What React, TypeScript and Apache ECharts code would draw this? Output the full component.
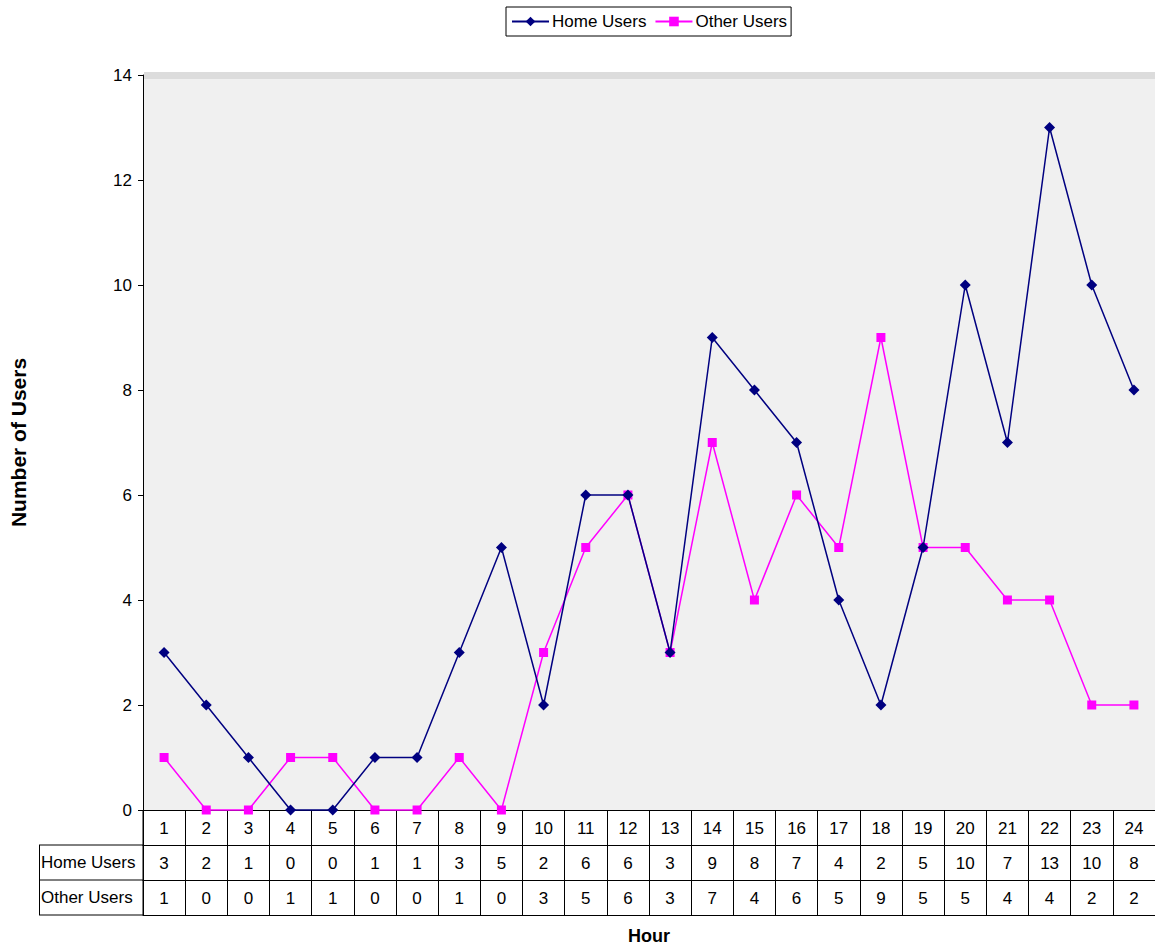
import React, { useEffect, useRef } from "react";
import * as echarts from "echarts";

const hours = ["1","2","3","4","5","6","7","8","9","10","11","12","13","14","15","16","17","18","19","20","21","22","23","24"];
const homeUsers = [3, 2, 1, 0, 0, 1, 1, 3, 5, 2, 6, 6, 3, 9, 8, 7, 4, 2, 5, 10, 7, 13, 10, 8];
const otherUsers = [1, 0, 0, 1, 1, 0, 0, 1, 0, 3, 5, 6, 3, 7, 4, 6, 5, 9, 5, 5, 4, 4, 2, 2];
const yTicks = { min: 0, max: 14, interval: 2 };
const seriesNames = ["Home Users", "Other Users"];

const FONT = "'Liberation Sans', Arial, sans-serif";
const NAVY = "#000080";
const MAGENTA = "#ff00ff";

export default function App() {
  const ref = useRef<HTMLDivElement>(null);
  useEffect(() => {
    if (!ref.current) return;
    const chart = echarts.init(ref.current, null, { renderer: "svg" });
    const gridLeft = 143;
    const gridTop = 75;
    const gridBottomY = 810;
    const rowH = 35;
    const labelStyle = { interval: 0, margin: 10, fontSize: 17, color: "#000", fontFamily: FONT };
    const tableAxis = (data: string[], offset: number) => ({
      type: "category",
      data,
      position: "bottom",
      offset,
      boundaryGap: true,
      axisLine: { show: true, lineStyle: { color: "#000", width: 1 } },
      axisTick: { show: true, interval: 0, length: rowH, inside: false, lineStyle: { color: "#000", width: 1 } },
      axisLabel: labelStyle,
      splitLine: { show: false },
    });
    const option: any = {
      animation: false,
      backgroundColor: "#fff",
      textStyle: { fontFamily: FONT },
      legend: {
        data: seriesNames,
        left: 506,
        top: 7,
        padding: [6, 4, 6, 5],
        borderColor: "#000",
        borderWidth: 1,
        itemWidth: 37,
        itemHeight: 12,
        itemGap: 8,
        textStyle: { fontSize: 17, color: "#000", fontFamily: FONT, padding: [0, 0, 0, -2] },
      },
      grid: {
        left: gridLeft,
        right: 0,
        top: gridTop,
        bottom: 947 - gridBottomY,
        show: true,
        backgroundColor: "#f0f0f0",
        borderWidth: 0,
        containLabel: false,
        outerBoundsMode: "none",
      },
      xAxis: [
        tableAxis(hours, 0),
        tableAxis(homeUsers.map(String), rowH),
        tableAxis(otherUsers.map(String), rowH * 2),
        {
          type: "category",
          data: hours,
          position: "bottom",
          offset: rowH * 3,
          axisLine: { show: true, lineStyle: { color: "#000", width: 1 } },
          axisTick: { show: false },
          axisLabel: { show: false },
          name: "Hour",
          nameLocation: "middle",
          nameGap: 12,
          nameTextStyle: { fontSize: 18, fontWeight: "bold", color: "#000", fontFamily: FONT },
        },
      ],
      yAxis: {
        type: "value",
        min: yTicks.min,
        max: yTicks.max,
        interval: yTicks.interval,
        axisLine: { show: true, lineStyle: { color: "#000", width: 1 } },
        axisTick: { show: true, length: 5, lineStyle: { color: "#000" } },
        axisLabel: { fontSize: 17, color: "#000", margin: 11, fontFamily: FONT },
        splitLine: { show: false },
        name: "Number of Users",
        nameLocation: "middle",
        nameRotate: 90,
        nameGap: 114,
        nameTextStyle: { fontSize: 21, fontWeight: "bold", color: "#000", fontFamily: FONT },
      },
      graphic: [
        { type: "rect", shape: { x: gridLeft + 1, y: 72, width: 1155 - gridLeft, height: 7 }, style: { fill: "#dcdcdc" }, z: 0 },
        { type: "line", shape: { x1: 39, y1: gridBottomY + rowH, x2: gridLeft, y2: gridBottomY + rowH }, style: { stroke: "#000", lineWidth: 1 } },
        { type: "line", shape: { x1: 39, y1: gridBottomY + rowH * 2, x2: gridLeft, y2: gridBottomY + rowH * 2 }, style: { stroke: "#000", lineWidth: 1 } },
        { type: "line", shape: { x1: 39, y1: gridBottomY + rowH * 3, x2: gridLeft, y2: gridBottomY + rowH * 3 }, style: { stroke: "#000", lineWidth: 1 } },
        { type: "line", shape: { x1: 39.5, y1: gridBottomY + rowH, x2: 39.5, y2: gridBottomY + rowH * 3 }, style: { stroke: "#000", lineWidth: 1 } },
        { type: "line", shape: { x1: gridLeft, y1: gridBottomY, x2: gridLeft, y2: gridBottomY + rowH * 3 }, style: { stroke: "#000", lineWidth: 1 } },
        { type: "text", x: 41, y: gridBottomY + rowH * 1.5, style: { text: seriesNames[0], fontSize: 17, fill: "#000", fontFamily: FONT, verticalAlign: "middle" } },
        { type: "text", x: 41, y: gridBottomY + rowH * 2.5, style: { text: seriesNames[1], fontSize: 17, fill: "#000", fontFamily: FONT, verticalAlign: "middle" } },
      ],
      series: [
        {
          name: seriesNames[0],
          type: "line",
          data: homeUsers,
          symbol: "diamond",
          symbolSize: 11,
          clip: false,
          z: 3,
          lineStyle: { color: NAVY, width: 1.5 },
          itemStyle: { color: NAVY },
        },
        {
          name: seriesNames[1],
          type: "line",
          data: otherUsers,
          symbol: "rect",
          symbolSize: 9,
          clip: false,
          z: 2,
          lineStyle: { color: MAGENTA, width: 1.5 },
          itemStyle: { color: MAGENTA },
        },
      ],
    };
    chart.setOption(option);
    return () => chart.dispose();
  }, []);
  return <div ref={ref} style={{ position: "absolute", left: 0, top: 0, width: 1155, height: 947 }} />;
}
